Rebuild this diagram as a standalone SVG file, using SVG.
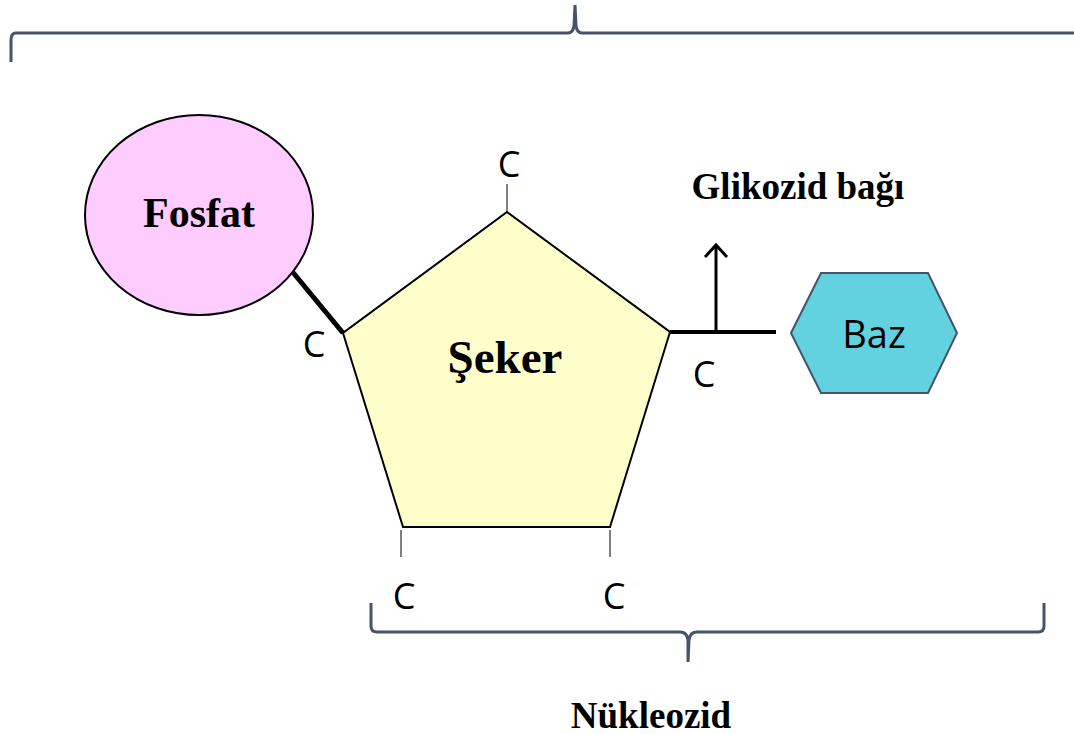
<svg xmlns="http://www.w3.org/2000/svg" width="1074" height="734" viewBox="0 0 1074 734">
<style>
.brace{fill:none;stroke:#44546A;stroke-width:3}
.c{font-family:"Open Sans","Liberation Sans",sans-serif;font-size:36px;fill:#000;text-anchor:middle}
.b{font-family:"Liberation Serif",serif;font-weight:bold;fill:#000;text-anchor:middle}
</style>
<defs>
<marker id="arr" viewBox="0 0 30 30" refX="26" refY="15" markerWidth="30" markerHeight="30" markerUnits="userSpaceOnUse" orient="auto">
<path d="M14 4 L26 15 L14 26" fill="none" stroke="#000" stroke-width="3"/>
</marker>
</defs>
<rect width="1074" height="734" fill="#fff"/>
<g id="braces">
<path class="brace" d="M11 62 L11 40 Q11 33 16 33 L568 33 Q573 33 574 26 L575 5 L576 26 Q577 33 582 33 L1074 33"/>
<path class="brace" d="M371 603 L371 626 Q371 632 377 632 L680 632 Q687 632 688 640 L688 662 L689 640 Q690 632 697 632 L1038 632 Q1044 632 1044 626 L1044 603"/>
</g>
<g id="connectors">
<line x1="291" y1="270" x2="343" y2="333" stroke="#000" stroke-width="5"/>
<line x1="670" y1="332" x2="776" y2="332" stroke="#000" stroke-width="4"/>
<line x1="716" y1="331" x2="716" y2="245" stroke="#000" stroke-width="3" marker-end="url(#arr)"/>
<line x1="507" y1="184" x2="507" y2="212" stroke="#000" stroke-width="1"/>
<line x1="401" y1="530" x2="401" y2="557" stroke="#000" stroke-width="1"/>
<line x1="610" y1="530" x2="610" y2="557" stroke="#000" stroke-width="1"/>
</g>
<g id="fosfat">
<ellipse cx="199" cy="215" rx="114" ry="100" fill="#FFCCFF" stroke="#000" stroke-width="2"/>
<text class="b" x="199" y="227" font-size="42">Fosfat</text>
</g>
<g id="seker">
<polygon points="507,212 670,332 610,527 403,527 343,333" fill="#FFFFCC" stroke="#000" stroke-width="2"/>
<text class="b" x="505" y="373" font-size="47">Şeker</text>
</g>
<g id="baz">
<polygon points="791,333 821,273 928,273 957,333 928,393 821,393" fill="#63D2E0" stroke="#44546A" stroke-width="2"/>
<text x="874" y="348" font-family="Open Sans, Liberation Sans, sans-serif" font-size="38" text-anchor="middle" fill="#000">Baz</text>
</g>
<g id="labels">
<text class="c" x="509" y="177">C</text>
<text class="c" x="314" y="357">C</text>
<text class="c" x="704" y="387">C</text>
<text class="c" x="404" y="609">C</text>
<text class="c" x="614" y="609">C</text>
<text class="b" x="798" y="199" font-size="37">Glikozid bağı</text>
<text class="b" x="651" y="728" font-size="37">Nükleozid</text>
</g>
</svg>
